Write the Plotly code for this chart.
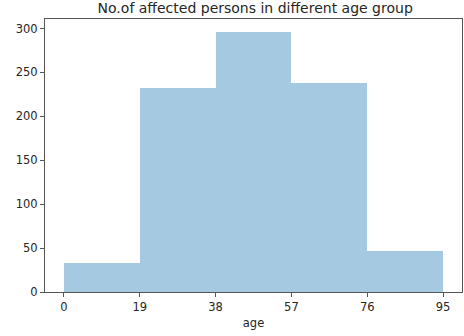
import plotly.graph_objects as go

# Age histogram: bin edges and counts per bin
bin_edges = [0, 19, 38, 57, 76, 95]
counts = [33, 232, 296, 238, 47]
tick_vals = [0, 19, 38, 57, 76, 95]
y_ticks = [0, 50, 100, 150, 200, 250, 300]

centers = [(a + b) / 2 for a, b in zip(bin_edges[:-1], bin_edges[1:])]
widths = [b - a for a, b in zip(bin_edges[:-1], bin_edges[1:])]

fig = go.Figure(
    go.Bar(
        x=centers,
        y=counts,
        width=widths,
        marker=dict(color="rgba(31,119,180,0.4)", line=dict(width=0)),
        hoverinfo="y",
    )
)

span = bin_edges[-1] - bin_edges[0]
axis_common = dict(
    showline=True, linecolor="#555555", linewidth=1, mirror=True,
    ticks="outside", ticklen=4, tickcolor="#555555", tickwidth=1,
    showgrid=False, zeroline=False,
    tickfont=dict(family="DejaVu Sans", size=11.5, color="#262626"),
)

fig.update_layout(
    width=464, height=336,
    margin=dict(l=45, r=2, t=19, b=44),
    paper_bgcolor="white", plot_bgcolor="white",
    bargap=0,
    showlegend=False,
    title=dict(text="No.of affected persons in different age group",
               x=0.55, xanchor="center", y=0.991, yanchor="top",
               font=dict(family="DejaVu Sans", size=14, color="#262626")),
    xaxis=dict(range=[bin_edges[0] - 0.05 * span, bin_edges[-1] + 0.05 * span],
               tickvals=tick_vals,
               title=dict(text="age", standoff=6,
                          font=dict(family="DejaVu Sans", size=11.5, color="#262626")),
               **axis_common),
    yaxis=dict(range=[0, max(counts) * 1.05], tickvals=y_ticks, **axis_common),
)

fig.write_html("out.html")
